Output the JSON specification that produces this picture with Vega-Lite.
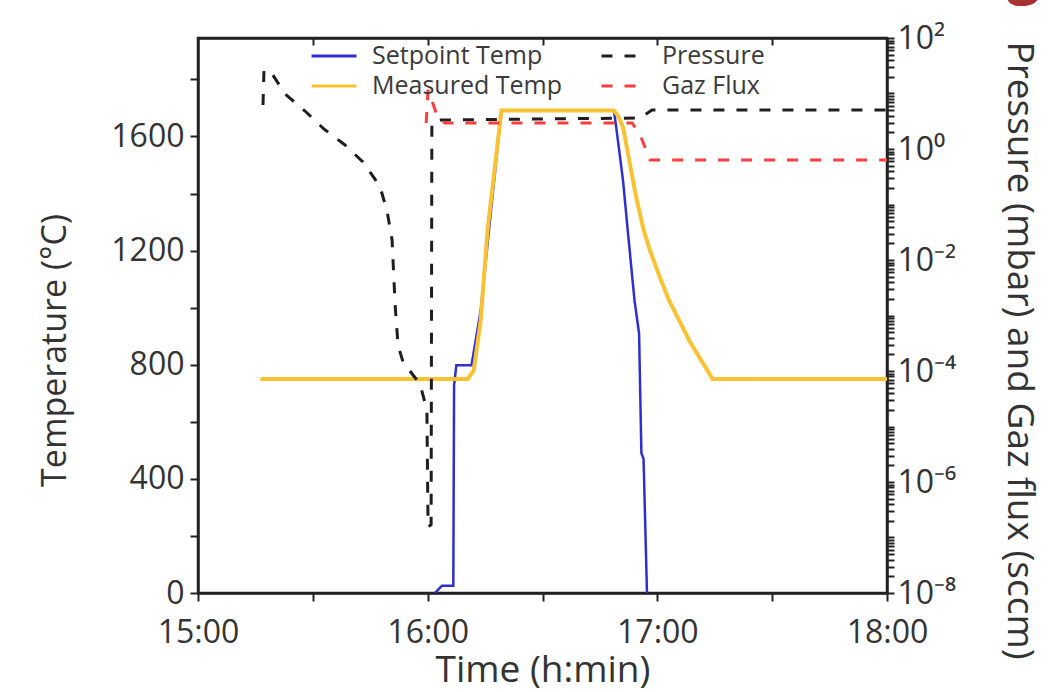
{
  "$schema": "https://vega.github.io/schema/vega-lite/v6.json",
  "autosize": "none",
  "width": 689,
  "height": 555,
  "padding": {"left": 198, "top": 38, "right": 165, "bottom": 99},
  "background": "white",
  "title": {
    "text": "g",
    "orient": "right",
    "anchor": "start",
    "frame": "group",
    "angle": 0,
    "align": "right",
    "baseline": "alphabetic",
    "offset": -31,
    "dy": -47,
    "font": "Open Sans",
    "fontSize": 60,
    "fontWeight": "bold",
    "color": "#a83232"
  },
  "data": {
    "format": {"parse": {"t": "date:'%H:%M:%S'"}},
    "values": [
      {"s": "Setpoint Temp", "t": "16:01:54", "v": 0},
      {"s": "Setpoint Temp", "t": "16:03:42", "v": 25},
      {"s": "Setpoint Temp", "t": "16:06:42", "v": 25},
      {"s": "Setpoint Temp", "t": "16:06:54", "v": 728},
      {"s": "Setpoint Temp", "t": "16:07:30", "v": 798},
      {"s": "Setpoint Temp", "t": "16:11:27", "v": 798},
      {"s": "Setpoint Temp", "t": "16:13:51", "v": 990},
      {"s": "Setpoint Temp", "t": "16:19:16", "v": 1691},
      {"s": "Setpoint Temp", "t": "16:48:39", "v": 1691},
      {"s": "Setpoint Temp", "t": "16:49:15", "v": 1633},
      {"s": "Setpoint Temp", "t": "16:51:02", "v": 1446},
      {"s": "Setpoint Temp", "t": "16:52:16", "v": 1271},
      {"s": "Setpoint Temp", "t": "16:54:02", "v": 1026},
      {"s": "Setpoint Temp", "t": "16:55:14", "v": 909},
      {"s": "Setpoint Temp", "t": "16:55:50", "v": 490},
      {"s": "Setpoint Temp", "t": "16:56:24", "v": 470},
      {"s": "Setpoint Temp", "t": "16:57:18", "v": 0},
      {"s": "Measured Temp", "t": "15:16:17", "v": 750},
      {"s": "Measured Temp", "t": "16:10:30", "v": 750},
      {"s": "Measured Temp", "t": "16:12:03", "v": 781},
      {"s": "Measured Temp", "t": "16:13:51", "v": 956},
      {"s": "Measured Temp", "t": "16:15:39", "v": 1271},
      {"s": "Measured Temp", "t": "16:19:16", "v": 1691},
      {"s": "Measured Temp", "t": "16:48:39", "v": 1691},
      {"s": "Measured Temp", "t": "16:49:44", "v": 1672},
      {"s": "Measured Temp", "t": "16:51:02", "v": 1633},
      {"s": "Measured Temp", "t": "16:52:20", "v": 1540},
      {"s": "Measured Temp", "t": "16:54:26", "v": 1390},
      {"s": "Measured Temp", "t": "16:56:26", "v": 1271},
      {"s": "Measured Temp", "t": "16:58:05", "v": 1200},
      {"s": "Measured Temp", "t": "17:00:42", "v": 1105},
      {"s": "Measured Temp", "t": "17:03:03", "v": 1026},
      {"s": "Measured Temp", "t": "17:08:32", "v": 880},
      {"s": "Measured Temp", "t": "17:14:26", "v": 750},
      {"s": "Measured Temp", "t": "18:00:00", "v": 750},
      {"s": "Pressure", "t": "15:16:59", "v": 6.2},
      {"s": "Pressure", "t": "15:17:14", "v": 26.5},
      {"s": "Pressure", "t": "15:19:04", "v": 24.4},
      {"s": "Pressure", "t": "15:22:44", "v": 9.8},
      {"s": "Pressure", "t": "15:27:57", "v": 4.84},
      {"s": "Pressure", "t": "15:32:55", "v": 2.29},
      {"s": "Pressure", "t": "15:38:24", "v": 1.18},
      {"s": "Pressure", "t": "15:43:06", "v": 0.583},
      {"s": "Pressure", "t": "15:47:30", "v": 0.215},
      {"s": "Pressure", "t": "15:49:24", "v": 0.0764},
      {"s": "Pressure", "t": "15:50:42", "v": 0.0229},
      {"s": "Pressure", "t": "15:51:30", "v": 0.00155},
      {"s": "Pressure", "t": "15:52:15", "v": 0.000295},
      {"s": "Pressure", "t": "15:53:34", "v": 0.000145},
      {"s": "Pressure", "t": "15:58:00", "v": 0.000058},
      {"s": "Pressure", "t": "15:59:48", "v": 0.00002},
      {"s": "Pressure", "t": "16:00:06", "v": 1.55e-7},
      {"s": "Pressure", "t": "16:00:54", "v": 1.7e-7},
      {"s": "Pressure", "t": "16:01:06", "v": 3.06},
      {"s": "Pressure", "t": "16:03:12", "v": 3.33},
      {"s": "Pressure", "t": "16:55:30", "v": 3.62},
      {"s": "Pressure", "t": "16:58:36", "v": 5.05},
      {"s": "Pressure", "t": "18:00:00", "v": 5.05},
      {"s": "Gaz Flux", "t": "15:59:36", "v": 2.94},
      {"s": "Gaz Flux", "t": "16:00:06", "v": 11.6},
      {"s": "Gaz Flux", "t": "16:02:42", "v": 3.62},
      {"s": "Gaz Flux", "t": "16:04:30", "v": 2.94},
      {"s": "Gaz Flux", "t": "16:53:24", "v": 2.94},
      {"s": "Gaz Flux", "t": "16:55:30", "v": 1.79},
      {"s": "Gaz Flux", "t": "16:58:06", "v": 0.634},
      {"s": "Gaz Flux", "t": "18:00:00", "v": 0.634}
    ]
  },
  "encoding": {
    "x": {
      "field": "t",
      "type": "temporal",
      "scale": {
        "domain": [
          {"year": 1900, "month": 1, "date": 1, "hours": 15, "minutes": 0},
          {"year": 1900, "month": 1, "date": 1, "hours": 18, "minutes": 0}
        ]
      }
    },
    "color": {
      "field": "s",
      "type": "nominal",
      "scale": {
        "domain": ["Setpoint Temp", "Pressure", "Measured Temp", "Gaz Flux"],
        "range": ["#2f2fd0", "#1e1e1e", "#f8c232", "#ff3b3b"]
      },
      "legend": {
        "title": null,
        "orient": "none",
        "legendX": 112,
        "legendY": 5,
        "columns": 2,
        "direction": "horizontal"
      }
    },
    "strokeDash": {
      "field": "s",
      "type": "nominal",
      "scale": {
        "domain": ["Setpoint Temp", "Pressure", "Measured Temp", "Gaz Flux"],
        "range": [[1, 0], [11, 12], [1, 0], [11, 12]]
      },
      "legend": {
        "title": null,
        "orient": "none",
        "legendX": 112,
        "legendY": 5,
        "columns": 2,
        "direction": "horizontal"
      }
    }
  },
  "layer": [
    {
      "transform": [{"filter": "datum.s == 'Setpoint Temp' || datum.s == 'Measured Temp'"}],
      "layer": [
        {
          "transform": [{"filter": "datum.s == 'Setpoint Temp'"}],
          "mark": {"type": "line", "strokeWidth": 2.5, "clip": true},
          "encoding": {
            "y": {
              "field": "v",
              "type": "quantitative",
              "scale": {"domain": [0, 1945], "nice": false, "zero": false}
            }
          }
        },
        {
          "transform": [{"filter": "datum.s == 'Measured Temp'"}],
          "mark": {"type": "line", "strokeWidth": 4, "clip": true},
          "encoding": {
            "y": {
              "field": "v",
              "type": "quantitative",
              "scale": {"domain": [0, 1945], "nice": false, "zero": false}
            }
          }
        }
      ],
      "encoding": {
        "x": {
          "field": "t",
          "type": "temporal",
          "axis": {
            "orient": "bottom",
            "title": "Time (h:min)",
            "titleFontSize": 37,
            "values": [
              {"year": 1900, "month": 1, "date": 1, "hours": 15, "minutes": 0},
              {"year": 1900, "month": 1, "date": 1, "hours": 15, "minutes": 30},
              {"year": 1900, "month": 1, "date": 1, "hours": 16, "minutes": 0},
              {"year": 1900, "month": 1, "date": 1, "hours": 16, "minutes": 30},
              {"year": 1900, "month": 1, "date": 1, "hours": 17, "minutes": 0},
              {"year": 1900, "month": 1, "date": 1, "hours": 17, "minutes": 30},
              {"year": 1900, "month": 1, "date": 1, "hours": 18, "minutes": 0}
            ],
            "labelExpr": "minutes(datum.value) == 0 ? timeFormat(datum.value, '%H:%M') : ''",
            "labelFlush": false,
            "labelOverlap": false,
            "labelPadding": 16,
            "titlePadding": 4
          }
        },
        "y": {
          "field": "v",
          "type": "quantitative",
          "axis": {
            "orient": "left",
            "title": "Temperature (°C)",
            "titleFontSize": 34,
            "values": [0, 200, 400, 600, 800, 1000, 1200, 1400, 1600, 1800],
            "labelExpr": "datum.value % 400 == 0 ? format(datum.value, 'd') : ''",
            "labelOverlap": false,
            "labelFlush": false,
            "labelPadding": 6,
            "titlePadding": 38,
            "titleY": 312
          }
        }
      }
    },
    {
      "transform": [{"filter": "datum.s == 'Pressure' || datum.s == 'Gaz Flux'"}],
      "mark": {"type": "line", "strokeWidth": 3, "clip": true},
      "encoding": {
        "x": {
          "field": "t",
          "type": "temporal",
          "axis": {
            "orient": "top",
            "title": null,
            "labels": false,
            "tickSize": -7,
            "values": [
              {"year": 1900, "month": 1, "date": 1, "hours": 15, "minutes": 30},
              {"year": 1900, "month": 1, "date": 1, "hours": 16, "minutes": 0},
              {"year": 1900, "month": 1, "date": 1, "hours": 16, "minutes": 30},
              {"year": 1900, "month": 1, "date": 1, "hours": 17, "minutes": 0},
              {"year": 1900, "month": 1, "date": 1, "hours": 17, "minutes": 30}
            ]
          }
        },
        "y": {
          "field": "v",
          "type": "quantitative",
          "scale": {"type": "log", "domain": [1e-8, 100], "nice": false},
          "axis": {
            "orient": "right",
            "title": "Pressure (mbar) and Gaz flux (sccm)",
            "titleFontSize": 37,
            "values": [1e-8, 2e-8, 3e-8, 4e-8, 5e-8, 6e-8, 7e-8, 8e-8, 9e-8,
              1e-7, 2e-7, 3e-7, 4e-7, 5e-7, 6e-7, 7e-7, 8e-7, 9e-7,
              1e-6, 2e-6, 3e-6, 4e-6, 5e-6, 6e-6, 7e-6, 8e-6, 9e-6,
              1e-5, 2e-5, 3e-5, 4e-5, 5e-5, 6e-5, 7e-5, 8e-5, 9e-5,
              1e-4, 2e-4, 3e-4, 4e-4, 5e-4, 6e-4, 7e-4, 8e-4, 9e-4,
              1e-3, 2e-3, 3e-3, 4e-3, 5e-3, 6e-3, 7e-3, 8e-3, 9e-3,
              1e-2, 2e-2, 3e-2, 4e-2, 5e-2, 6e-2, 7e-2, 8e-2, 9e-2,
              0.1, 0.2, 0.3, 0.4, 0.5, 0.6, 0.7, 0.8, 0.9,
              1, 2, 3, 4, 5, 6, 7, 8, 9,
              10, 20, 30, 40, 50, 60, 70, 80, 90, 100],
            "labelExpr": "abs(log(datum.value)/LN10 - round(log(datum.value)/LN10)) > 0.01 ? '' : round(log(datum.value)/LN10) == 2 ? '10²' : round(log(datum.value)/LN10) == 0 ? '10⁰' : round(log(datum.value)/LN10) == -2 ? '10⁻²' : round(log(datum.value)/LN10) == -4 ? '10⁻⁴' : round(log(datum.value)/LN10) == -6 ? '10⁻⁶' : round(log(datum.value)/LN10) == -8 ? '10⁻⁸' : ''",
            "labelOverlap": false,
            "labelFlush": false,
            "labelBound": false,
            "tickSize": 7,
            "labelPadding": 3,
            "titlePadding": 44,
            "titleY": 312
          }
        }
      }
    }
  ],
  "resolve": {"scale": {"y": "independent"}, "axis": {"x": "independent", "y": "independent"}},
  "config": {
    "font": "Open Sans",
    "view": {"stroke": "#222222", "strokeWidth": 2.5},
    "axis": {
      "grid": false,
      "labelFont": "Open Sans",
      "labelFontSize": 32,
      "labelColor": "#333333",
      "titleFont": "Open Sans",
      "titleFontSize": 33,
      "titleFontWeight": "normal",
      "titleColor": "#333333",
      "domainColor": "#222222",
      "domainWidth": 2.5,
      "tickColor": "#222222",
      "tickWidth": 2,
      "tickSize": 8
    },
    "legend": {
      "symbolType": "stroke",
      "symbolSize": 2025,
      "symbolStrokeWidth": 3,
      "labelFont": "Open Sans",
      "labelFontSize": 25,
      "labelColor": "#3a3a3a",
      "labelOffset": 14,
      "columnPadding": 38,
      "rowPadding": 4,
      "clipHeight": 26,
      "padding": 0,
      "labelLimit": 400
    }
  }
}
